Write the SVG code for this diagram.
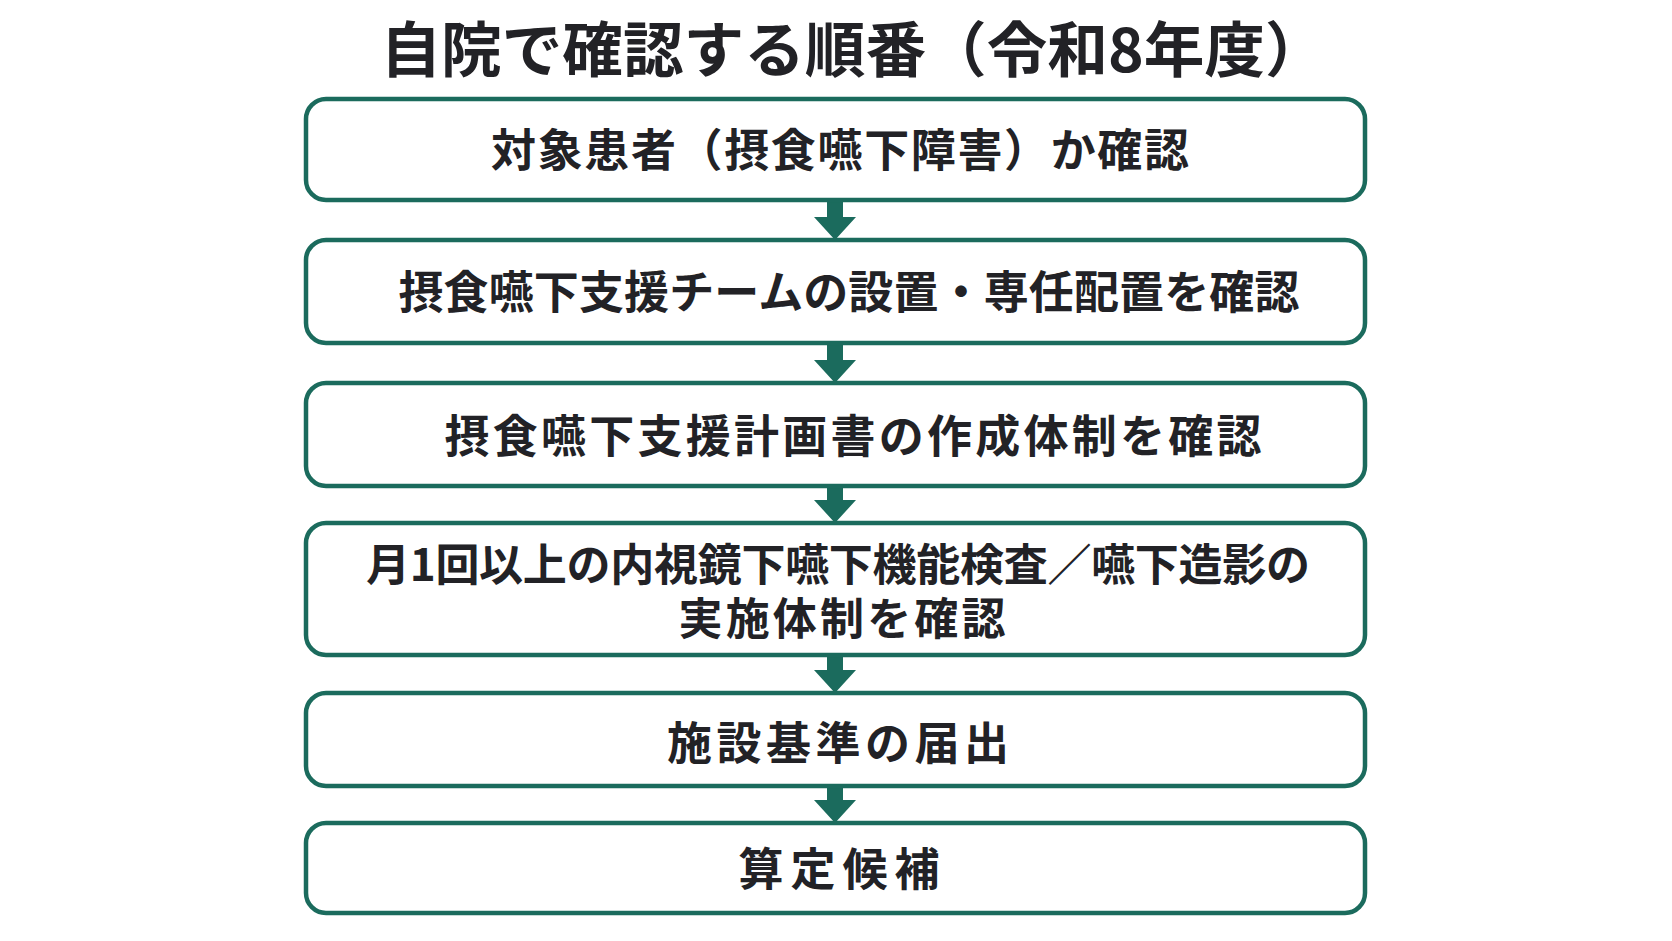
<svg xmlns="http://www.w3.org/2000/svg" width="1672" height="941" viewBox="0 0 1672 941">
  <defs>
    <style>
      .box { fill: #ffffff; stroke: #1b6b5d; stroke-width: 4.5; }
      .t { font-family: "Noto Sans CJK JP", "Noto Sans CJK SC", sans-serif; font-weight: 700; fill: #222226; text-anchor: middle; dominant-baseline: central; }
      .title { font-size: 60px; }
      .lbl { font-size: 45px; }
      .lbl4 { font-size: 44px; }
      .arr { fill: #1b6b5d; }
    </style>
  </defs>
  <rect width="1672" height="941" fill="#ffffff"/>
  <g id="title">
    <text class="t title" x="853" y="45" textLength="945" lengthAdjust="spacingAndGlyphs">自院で確認する順番（令和8年度）</text>
  </g>
  <g id="connectors">
    <path class="arr" d="M827 200 H843 V217 H856 L835 240 L814 217 H827 Z"/>
    <path class="arr" d="M827 343 H843 V360 H856 L835 383 L814 360 H827 Z"/>
    <path class="arr" d="M827 486 H843 V500 H856 L835 523 L814 500 H827 Z"/>
    <path class="arr" d="M827 655 H843 V670 H856 L835 693 L814 670 H827 Z"/>
    <path class="arr" d="M827 786 H843 V800 H856 L835 823 L814 800 H827 Z"/>
  </g>
  <g id="node1">
    <rect class="box" x="306" y="99" width="1059" height="101" rx="20"/>
    <text class="t lbl" x="840" y="147" textLength="698">対象患者（摂食嚥下障害）か確認</text>
  </g>
  <g id="node2">
    <rect class="box" x="306" y="240" width="1059" height="103" rx="20"/>
    <text class="t lbl" x="849" y="289" textLength="901">摂食嚥下支援チームの設置・専任配置を確認</text>
  </g>
  <g id="node3">
    <rect class="box" x="306" y="383" width="1059" height="103" rx="20"/>
    <text class="t lbl" x="853" y="433" textLength="817">摂食嚥下支援計画書の作成体制を確認</text>
  </g>
  <g id="node4">
    <rect class="box" x="306" y="523" width="1059" height="132" rx="20"/>
    <text class="t lbl4" x="838" y="562" textLength="944">月1回以上の内視鏡下嚥下機能検査／嚥下造影の</text>
    <text class="t lbl4" x="842" y="616" textLength="327">実施体制を確認</text>
  </g>
  <g id="node5">
    <rect class="box" x="306" y="693" width="1059" height="93" rx="20"/>
    <text class="t lbl" x="838" y="740" textLength="342">施設基準の届出</text>
  </g>
  <g id="node6">
    <rect class="box" x="306" y="823" width="1059" height="90" rx="20"/>
    <text class="t lbl" x="839" y="866" textLength="201">算定候補</text>
  </g>
</svg>
